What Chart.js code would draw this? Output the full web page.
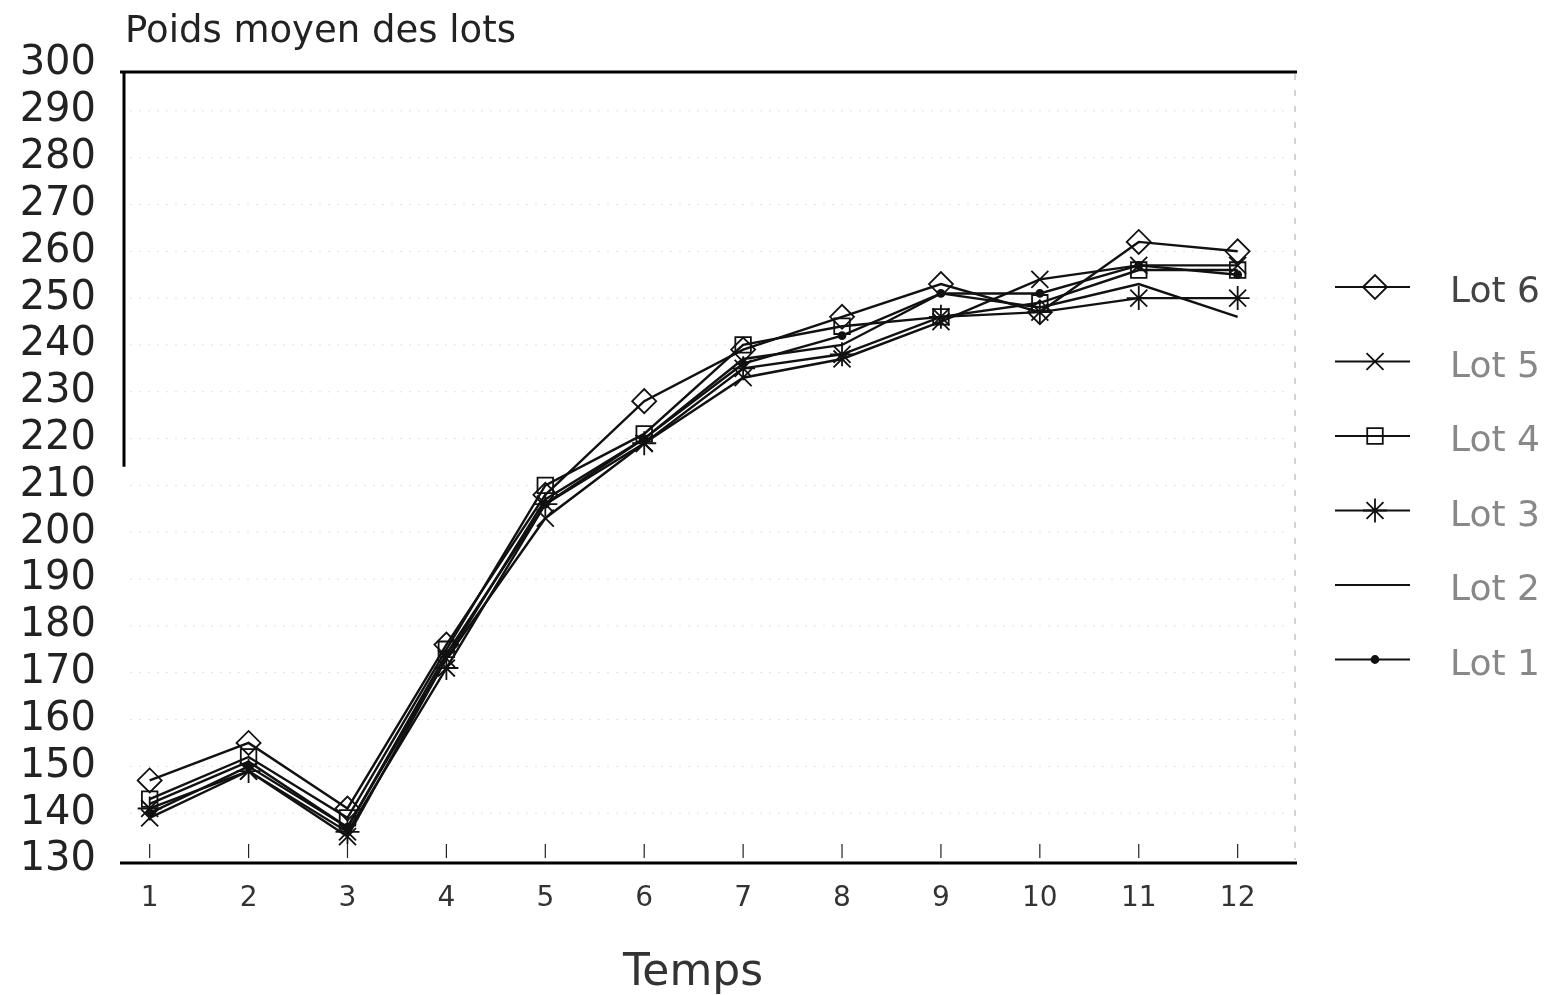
<!DOCTYPE html>
<html>
<head>
<meta charset="utf-8">
<script src="https://cdn.jsdelivr.net/npm/chart.js@4.4.0/dist/chart.umd.min.js"></script>
<style>
  html, body { margin: 0; padding: 0; background: #fff; }
  #wrap { width: 1561px; height: 995px; position: relative; }
</style>
</head>
<body>
<div id="wrap"><canvas id="chart"></canvas></div>
<script>
// Time steps and y tick values
const temps = [1, 2, 3, 4, 5, 6, 7, 8, 9, 10, 11, 12];
const yTicks = [130, 140, 150, 160, 170, 180, 190, 200, 210, 220, 230, 240, 250, 260, 270, 280, 290, 300];

// Mean weight of each lot
const lot1 = [140, 150, 137, 174, 206, 220, 236, 242, 251, 251, 257, 255];
const lot2 = [142, 151, 137, 173, 207, 220, 237, 240, 251, 248, 253, 246];
const lot3 = [141, 149, 136, 171, 206, 219, 235, 238, 246, 247, 250, 250];
const lot4 = [143, 152, 139, 175, 210, 221, 240, 244, 246, 249, 256, 256];
const lot5 = [139, 149, 135, 173, 203, 219, 233, 237, 245, 254, 257, 257];
const lot6 = [147, 155, 141, 176, 208, 228, 239, 246, 253, 247, 262, 260];

const lotNames = ['Lot 6', 'Lot 5', 'Lot 4', 'Lot 3', 'Lot 2', 'Lot 1'];

const FONT = '"DejaVu Sans", sans-serif';

function series(label, values, style, radius) {
    return {
        label: label,
        data: temps.map((t, i) => ({ x: t, y: values[i] })),
        borderColor: '#111',
        borderWidth: 2.4,
        backgroundColor: style === 'circle' ? '#111' : 'rgba(255,255,255,0)',
        pointStyle: style,
        pointRadius: radius,
        pointBorderColor: '#111',
        pointBorderWidth: 1.8,
        tension: 0
    };
}

const datasets = [
    series('Lot 6', lot6, 'rectRot', 12),
    series('Lot 5', lot5, 'crossRot', 12),
    series('Lot 4', lot4, 'rect', 11),
    series('Lot 3', lot3, 'star', 12),
    series('Lot 2', lot2, false, 0),
    series('Lot 1', lot1, 'circle', 3.5)
];

// Frame, tick marks, title, axis label and legend
const decorations = {
    id: 'decorations',
    beforeDatasetsDraw(chart) {
        const { ctx, chartArea: a, scales } = chart;
        ctx.save();
        // faint dotted grid
        ctx.strokeStyle = 'rgba(0,0,0,0.12)';
        ctx.lineWidth = 1;
        ctx.setLineDash([2, 7]);
        yTicks.slice(1, -1).forEach(v => {
            const y = scales.y.getPixelForValue(v);
            ctx.beginPath();
            ctx.moveTo(a.left + 10, y);
            ctx.lineTo(a.right - 10, y);
            ctx.stroke();
        });
        ctx.setLineDash([]);
        // tick marks on x axis
        ctx.strokeStyle = '#222';
        ctx.lineWidth = 1.2;
        temps.forEach(t => {
            const x = scales.x.getPixelForValue(t);
            ctx.beginPath();
            ctx.moveTo(x, a.bottom - 2);
            ctx.lineTo(x, a.bottom - 16);
            ctx.stroke();
        });
        // frame
        ctx.strokeStyle = '#000';
        ctx.lineWidth = 3;
        ctx.beginPath();
        ctx.moveTo(a.left, a.top + 8);
        ctx.lineTo(a.right, a.top + 8);
        ctx.stroke();
        ctx.beginPath();
        ctx.moveTo(a.left, a.bottom + 3);
        ctx.lineTo(a.right, a.bottom + 3);
        ctx.stroke();
        ctx.beginPath();
        ctx.moveTo(a.left + 4, a.top + 8);
        ctx.lineTo(a.left + 4, scales.y.getPixelForValue(214));
        ctx.stroke();
        ctx.lineWidth = 1;
        ctx.strokeStyle = 'rgba(0,0,0,0.35)';
        ctx.setLineDash([6, 10]);
        ctx.beginPath();
        ctx.moveTo(a.right - 2, a.top + 10);
        ctx.lineTo(a.right - 2, a.bottom);
        ctx.stroke();
        ctx.restore();
    },
    afterDraw(chart) {
        const { ctx, chartArea: a } = chart;
        ctx.save();
        ctx.fillStyle = '#222';
        ctx.textBaseline = 'alphabetic';
        ctx.textAlign = 'left';
        ctx.font = '37px ' + FONT;
        ctx.fillText('Poids moyen des lots', a.left + 5, 42);
        ctx.textAlign = 'center';
        ctx.font = '44px ' + FONT;
        ctx.fillStyle = '#333';
        ctx.fillText('Temps', 693, 985);

        // legend
        const x0 = 1335, x1 = 1410, xs = 1375, xt = 1450;
        chart.data.datasets.forEach((ds, i) => {
            const y = 287 + i * 74.5;
            ctx.strokeStyle = '#111';
            ctx.lineWidth = 2;
            ctx.beginPath();
            ctx.moveTo(x0, y);
            ctx.lineTo(x1, y);
            ctx.stroke();
            if (ds.pointStyle) {
                ctx.fillStyle = ds.backgroundColor;
                ctx.lineWidth = 1.8;
                Chart.helpers.drawPoint(ctx, {
                    pointStyle: ds.pointStyle,
                    radius: ds.pointRadius,
                    rotation: 0,
                    borderWidth: 1.8
                }, xs, y);
            }
            ctx.fillStyle = i === 0 ? '#444' : '#888';
            ctx.textAlign = 'left';
            ctx.textBaseline = 'middle';
            ctx.font = '36px ' + FONT;
            ctx.fillText(lotNames[i], xt, y + 6);
        });
        ctx.restore();
    }
};

new Chart(document.getElementById('chart'), {
    type: 'line',
    data: { datasets: datasets },
    options: {
        responsive: true,
        maintainAspectRatio: false,
        animation: false,
        layout: { padding: { top: 64, right: 264, bottom: 0, left: 0 } },
        plugins: {
            legend: { display: false },
            tooltip: { enabled: false }
        },
        scales: {
            x: {
                type: 'linear',
                min: 0.7,
                max: 12.6,
                afterBuildTicks: scale => { scale.ticks = temps.map(v => ({ value: v })); },
                afterFit: scale => { scale.height = 135; },
                grid: { display: false, drawTicks: false },
                border: { display: false },
                ticks: {
                    padding: 22,
                    color: '#333',
                    font: { family: FONT, size: 28 },
                    maxRotation: 0,
                    autoSkip: false
                }
            },
            y: {
                type: 'linear',
                min: 130,
                max: 300,
                afterBuildTicks: scale => { scale.ticks = yTicks.map(v => ({ value: v })); },
                afterFit: scale => { scale.width = 120; },
                grid: { display: false, drawTicks: false },
                border: { display: false },
                ticks: {
                    padding: 24,
                    color: '#222',
                    autoSkip: false,
                    font: { family: FONT, size: 40 }
                }
            }
        }
    },
    plugins: [decorations]
});
</script>
</body>
</html>
